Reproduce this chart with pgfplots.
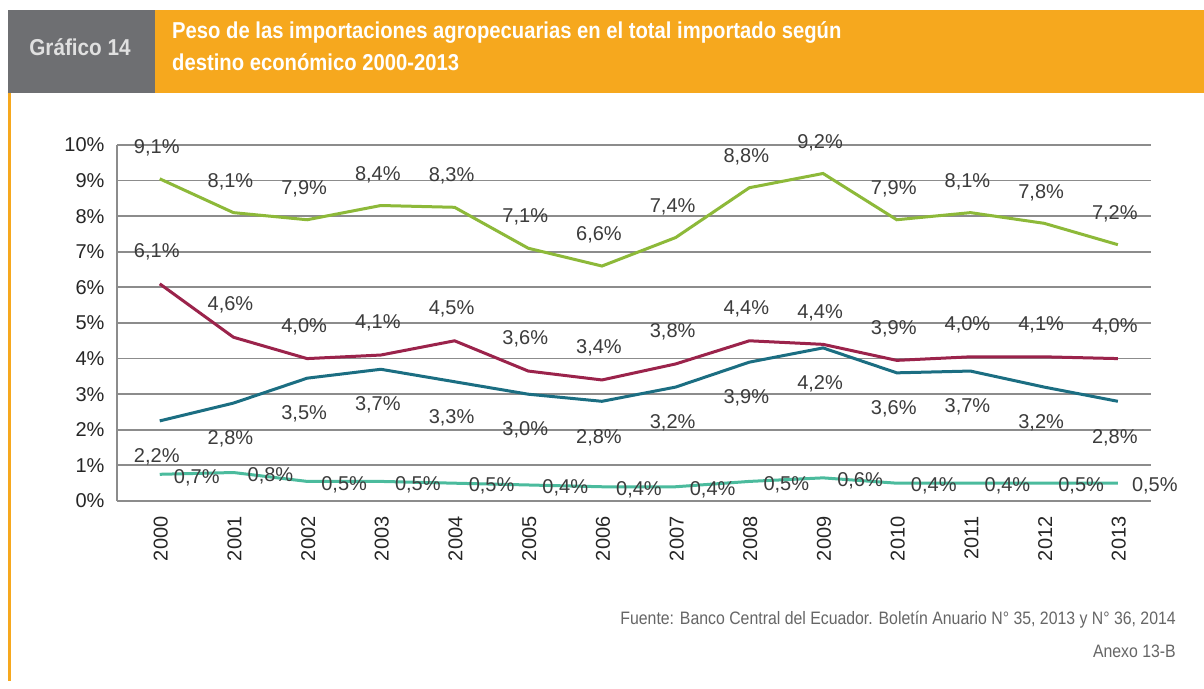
\documentclass[border=0pt]{standalone}
\usepackage{fontspec}
\setmainfont{Liberation Sans}
\newfontfamily\cond[FakeStretch=0.88]{Liberation Sans}
\newfontfamily\condb[FakeStretch=0.90]{Liberation Sans}
\usepackage{pgfplots}
\pgfplotsset{compat=1.18}
\definecolor{orangeC}{RGB}{246,168,30}
\definecolor{grayBox}{RGB}{110,111,114}
\definecolor{gridC}{RGB}{140,140,140}
\definecolor{lblC}{RGB}{60,60,60}
\definecolor{greenC}{RGB}{141,185,57}
\definecolor{redC}{RGB}{155,35,75}
\definecolor{blueC}{RGB}{27,110,130}
\definecolor{tealC}{RGB}{75,187,157}
\begin{document}
\begin{tikzpicture}
\path[fill=white,use as bounding box] (0,0) rectangle (1204bp,689bp);
% header
\fill[grayBox] (8bp,596bp) rectangle (155bp,679bp);
\fill[orangeC] (155bp,596bp) rectangle (1204bp,679bp);
\node[text=white!88!black,font=\condb\bfseries\fontsize{23bp}{27bp}\selectfont] at (80bp,642bp) {Gráfico 14};
\node[anchor=west,text=white,inner sep=0pt,font=\cond\bfseries\fontsize{23bp}{27bp}\selectfont] at (172bp,656bp) {Peso de las importaciones agropecuarias en el total importado según};
\node[anchor=west,text=white,inner sep=0pt,font=\cond\bfseries\fontsize{23bp}{27bp}\selectfont] at (172bp,627bp) {destino económico 2000-2013};
% left border
\draw[orangeC,line width=2.5bp] (9.5bp,596bp) -- (9.5bp,8bp);
% source
\node[anchor=east,inner sep=0pt,text=black!60,font=\cond\fontsize{18bp}{21bp}\selectfont] at (1176bp,69bp) {Fuente: Banco Central del Ecuador. Boletín Anuario N° 35, 2013 y N° 36, 2014};
\node[anchor=east,inner sep=0pt,text=black!60,font=\cond\fontsize{18bp}{21bp}\selectfont] at (1176bp,38bp) {Anexo 13-B};
\begin{axis}[
  at={(117bp,188bp)}, anchor=south west,
  scale only axis, width=1034bp, height=356bp,
  xmin=-0.58, xmax=13.45, ymin=0, ymax=10,
  axis lines*=left,
  axis line style={gridC,line width=1.8bp},
  ymajorgrids, grid style={gridC,line width=1.8bp},
  major tick length=0pt,
  xtick={0,...,13},
  xticklabels={2000,2001,2002,2003,2004,2005,2006,2007,2008,2009,2010,2011,2012,2013},
  ytick={0,...,10},
  yticklabels={0\%,1\%,2\%,3\%,4\%,5\%,6\%,7\%,8\%,9\%,10\%},
  tick label style={text=black!85,font=\fontsize{20bp}{24bp}\selectfont},
  x tick label style={rotate=90,anchor=east,yshift=-1bp,xshift=-12bp},
  y tick label style={xshift=-9bp},
  point meta=explicit symbolic,
  nodes near coords,
  every node near coord/.append style={anchor=center,text=lblC,font=\fontsize{20bp}{23bp}\selectfont},
]
\addplot[greenC,line width=3bp,every node near coord/.append style={yshift=31bp,xshift=-3bp}] coordinates {
(0,9.05)[9,1\%] (1,8.1)[8,1\%] (2,7.9)[7,9\%] (3,8.3)[8,4\%] (4,8.25)[8,3\%] (5,7.1)[7,1\%] (6,6.6)[6,6\%]
(7,7.4)[7,4\%] (8,8.8)[8,8\%] (9,9.2)[9,2\%] (10,7.9)[7,9\%] (11,8.1)[8,1\%] (12,7.8)[7,8\%] (13,7.2)[7,2\%]};
\addplot[redC,line width=3bp,every node near coord/.append style={yshift=32bp,xshift=-3bp}] coordinates {
(0,6.1)[6,1\%] (1,4.6)[4,6\%] (2,4.0)[4,0\%] (3,4.1)[4,1\%] (4,4.5)[4,5\%] (5,3.65)[3,6\%] (6,3.4)[3,4\%]
(7,3.85)[3,8\%] (8,4.5)[4,4\%] (9,4.4)[4,4\%] (10,3.95)[3,9\%] (11,4.05)[4,0\%] (12,4.05)[4,1\%] (13,4.0)[4,0\%]};
\addplot[blueC,line width=3bp,every node near coord/.append style={yshift=-36bp,xshift=-3bp}] coordinates {
(0,2.25)[2,2\%] (1,2.75)[2,8\%] (2,3.45)[3,5\%] (3,3.7)[3,7\%] (4,3.35)[3,3\%] (5,3.0)[3,0\%] (6,2.8)[2,8\%]
(7,3.2)[3,2\%] (8,3.9)[3,9\%] (9,4.3)[4,2\%] (10,3.6)[3,6\%] (11,3.65)[3,7\%] (12,3.2)[3,2\%] (13,2.8)[2,8\%]};
\addplot[tealC,line width=3bp,every node near coord/.append style={yshift=-3bp,xshift=37bp}] coordinates {
(0,0.75)[0,7\%] (1,0.8)[0,8\%] (2,0.55)[0,5\%] (3,0.55)[0,5\%] (4,0.5)[0,5\%] (5,0.45)[0,4\%] (6,0.4)[0,4\%]
(7,0.4)[0,4\%] (8,0.55)[0,5\%] (9,0.65)[0,6\%] (10,0.5)[0,4\%] (11,0.5)[0,4\%] (12,0.5)[0,5\%] (13,0.5)[0,5\%]};
\end{axis}
\end{tikzpicture}
\end{document}
